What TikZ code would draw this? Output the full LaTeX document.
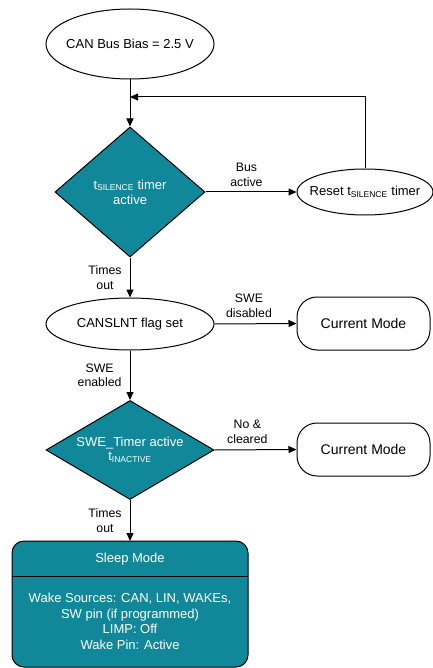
\documentclass[tikz,border=0pt]{standalone}
\usepackage{fontspec}
\setmainfont{Liberation Sans}
\usetikzlibrary{shapes.geometric,arrows.meta}
\definecolor{tiTeal}{RGB}{17,136,153}
\newcommand{\subsmall}[1]{\textsubscript{\fontsize{8.5}{9}\selectfont #1}}
\begin{document}
\begin{tikzpicture}[x=1pt,y=-1pt,
  every node/.style={font=\fontsize{13}{15}\selectfont, inner sep=0pt, align=center},
  every label/.style={font=\fontsize{13}{15}\selectfont, inner sep=0pt, align=center},
  oval/.style={draw, ellipse, line width=1pt, fill=white},
  decision/.style={draw, diamond, line width=1pt, fill=tiTeal, text=white},
  modebox/.style={draw, rounded corners=20pt, line width=1pt, fill=white, font=\fontsize{14}{16}\selectfont},
  conn/.style={line width=1pt, -{Triangle[length=8pt,width=7pt]}},
  lbl/.style={font=\fontsize{12.3}{14.5}\selectfont}]
\useasboundingbox (0,0) rectangle (432,668);

% nodes
\node[oval, minimum width=168pt, minimum height=70pt, label=center:{CAN Bus Bias = 2.5 V}] (bias) at (130,44) {};
\node[decision, minimum width=150pt, minimum height=130pt, aspect=1.15] (d1) at (130,192) {t\subsmall{SILENCE} timer\\active};
\node[oval, minimum width=136pt, minimum height=46pt, label=center:{Reset t\subsmall{SILENCE} timer}] (reset) at (365,192) {};
\node[oval, minimum width=168pt, minimum height=52pt, label=center:{CANSLNT flag set}] (flag) at (130,324) {};
\node[modebox, minimum width=133pt, minimum height=53pt] (cm1) at (363.5,323.5) {Current Mode};
\node[decision, minimum width=168pt, minimum height=99pt, aspect=1.7] (d2) at (130,450) {SWE\_Timer active\\[-1pt]t\subsmall{INACTIVE}};
\node[modebox, minimum width=133pt, minimum height=53pt] (cm2) at (363.5,449.5) {Current Mode};

% sleep box
\coordinate (sleepTL) at (12,541);
\coordinate (sleepBR) at (248,667);
\draw[line width=1pt, fill=tiTeal, rounded corners=12pt] (sleepTL) rectangle (sleepBR);
\coordinate (divL) at (12,576);
\coordinate (divR) at (248,576);
\draw[line width=1pt] (divL) -- (divR);
\node[text=white] (sleepT) at (130,559) {Sleep Mode};
\node[text=white, font=\fontsize{13}{15.5}\selectfont] (sleepB) at (130,621.5) {Wake Sources: CAN, LIN, WAKEs,\\SW pin (if programmed)\\LIMP: Off\\Wake Pin: Active};
\coordinate (sleep) at (130,541);

% connectors
\coordinate (join) at (130,97);
\draw[line width=1pt] (bias.south) -- (join);
\draw[conn] (join) -- (d1.north);
\coordinate (rtop) at (365,97);
\draw[conn] (reset.north) -- (rtop) -- (join);
\draw[conn] (d1.east) -- (reset.west) node[lbl, pos=0.45, above=5pt] {Bus\\active};
\draw[conn] (d1.south) -- (flag.north) node[lbl, midway, left=8pt] {Times\\out};
\draw[conn] (flag.east) -- (cm1.west) node[lbl, pos=0.42, above=6pt] {SWE\\disabled};
\draw[conn] (flag.south) -- (d2.north) node[lbl, midway, left=8pt] {SWE\\enabled};
\draw[conn] (d2.east) -- (cm2.west) node[lbl, pos=0.4, above=6pt] {No \&\\cleared};
\draw[conn] (d2.south) -- (sleep) node[lbl, midway, left=8pt] {Times\\out};
\end{tikzpicture}
\end{document}
